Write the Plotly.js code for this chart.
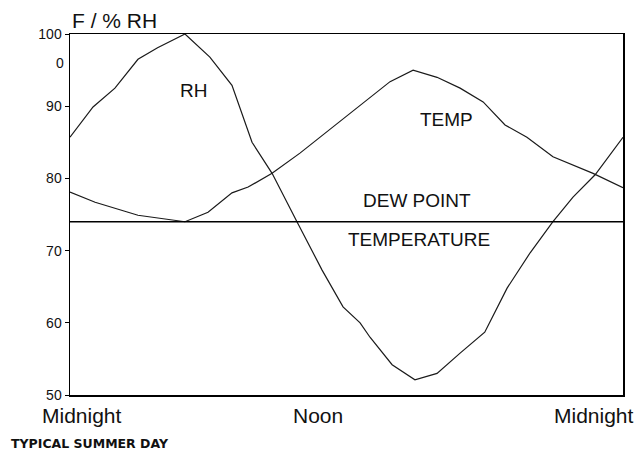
<!DOCTYPE html>
<html>
<head>
<meta charset="utf-8">
<script src="https://cdn.plot.ly/plotly-3.0.1.min.js"></script>
<style>html,body{margin:0;padding:0;background:#fff;}#chart{width:639px;height:454px;}</style>
</head>
<body>
<div id="chart"></div>
<script>
// Hours after midnight and values
const tempHours = [0, 1.09, 2.95, 4.99, 5.99, 7.03, 7.73, 8.77, 9.98, 11.41, 13.02, 13.89, 14.89, 15.93, 16.93, 17.93, 18.88, 19.83, 20.96, 22.7, 24];
const tempValues = [78.1, 76.7, 74.9, 74.0, 75.3, 78.0, 78.8, 80.7, 83.5, 87.1, 91.1, 93.4, 95.0, 94.0, 92.5, 90.6, 87.4, 85.7, 83.0, 80.7, 78.7];

const rhHours = [0, 1.0, 1.95, 2.95, 3.8, 4.99, 6.07, 7.03, 7.9, 8.77, 9.85, 10.94, 11.85, 12.59, 13.02, 13.98, 14.97, 15.93, 16.93, 18.0, 18.97, 19.97, 20.96, 21.83, 22.79, 24];
const rhValues = [85.7, 89.9, 92.5, 96.5, 98.1, 100, 96.8, 92.9, 85.0, 80.7, 74.0, 67.3, 62.2, 60.0, 58.0, 54.2, 52.1, 53.0, 55.8, 58.7, 64.8, 69.7, 74.0, 77.4, 80.5, 85.7];

const dewHours = [0, 24];
const dewValues = [74, 74];

const yTickVals = [50, 60, 70, 80, 90, 100];
const yTickText = ['50', '60', '70', '80', '90', '100'];
const xLabels = ['Midnight', 'Noon', 'Midnight'];

const lineStyle = {color: '#1a1a1a', width: 1.2};
const data = [
  {x: tempHours, y: tempValues, mode: 'lines', line: lineStyle, name: 'TEMP', hoverinfo: 'skip'},
  {x: rhHours, y: rhValues, mode: 'lines', line: lineStyle, name: 'RH', hoverinfo: 'skip'},
  {x: dewHours, y: dewValues, mode: 'lines', line: {color: '#000', width: 1.6}, name: 'DEW POINT', hoverinfo: 'skip'}
];

const font = 'Liberation Sans, Arial, sans-serif';
const labelFont = {family: font, size: 19, color: '#111'};
const xLabelPos = [0.022, 0.449, 0.948];

const annotations = [
  {text: 'RH', x: 5.38, y: 92.2, xref: 'x', yref: 'y', showarrow: false, font: labelFont},
  {text: 'TEMP', x: 16.36, y: 88.1, xref: 'x', yref: 'y', showarrow: false, font: labelFont},
  {text: 'DEW POINT', x: 15.06, y: 76.9, xref: 'x', yref: 'y', showarrow: false, font: labelFont},
  {text: 'TEMPERATURE', x: 15.15, y: 71.5, xref: 'x', yref: 'y', showarrow: false, font: labelFont},
  {text: 'F / % RH', x: 0, y: 1, xref: 'paper', yref: 'paper', xanchor: 'left', yanchor: 'bottom', yshift: 0, showarrow: false, font: {family: font, size: 21, color: '#111'}},
  {text: '0', x: 0, y: 96, xref: 'paper', yref: 'y', xanchor: 'right', xshift: -4, showarrow: false, font: {family: font, size: 14, color: '#111'}},
  {text: 'TYPICAL SUMMER DAY', x: 0, y: -0.1357, xref: 'paper', yref: 'paper', xanchor: 'left', yanchor: 'middle', xshift: -61, showarrow: false, font: {family: 'DejaVu Sans, sans-serif', size: 12.5, color: '#111', weight: 'bold'}}
];
xLabels.forEach((t, i) => {
  annotations.push({text: t, x: xLabelPos[i], y: 0, xref: 'paper', yref: 'paper', xanchor: 'center', yanchor: 'top', yshift: -7, showarrow: false, font: {family: font, size: 21, color: '#111'}});
});

const layout = {
  width: 639, height: 454,
  margin: {l: 70, r: 16, t: 34, b: 59, pad: 0},
  paper_bgcolor: '#fff', plot_bgcolor: '#fff',
  showlegend: false,
  xaxis: {range: [0, 24], showgrid: false, zeroline: false, showticklabels: false, ticks: '',
          showline: true, mirror: true, linecolor: '#000', linewidth: 1.5},
  yaxis: {range: [50, 100], showgrid: false, zeroline: false, tickvals: yTickVals, ticktext: yTickText,
          ticks: 'outside', ticklen: 4, tickwidth: 1, tickcolor: '#000',
          tickfont: {family: font, size: 14, color: '#111'},
          showline: true, mirror: true, linecolor: '#000', linewidth: 1.5},
  annotations: annotations
};

Plotly.newPlot('chart', data, layout, {staticPlot: true, displayModeBar: false});
</script>
</body>
</html>
